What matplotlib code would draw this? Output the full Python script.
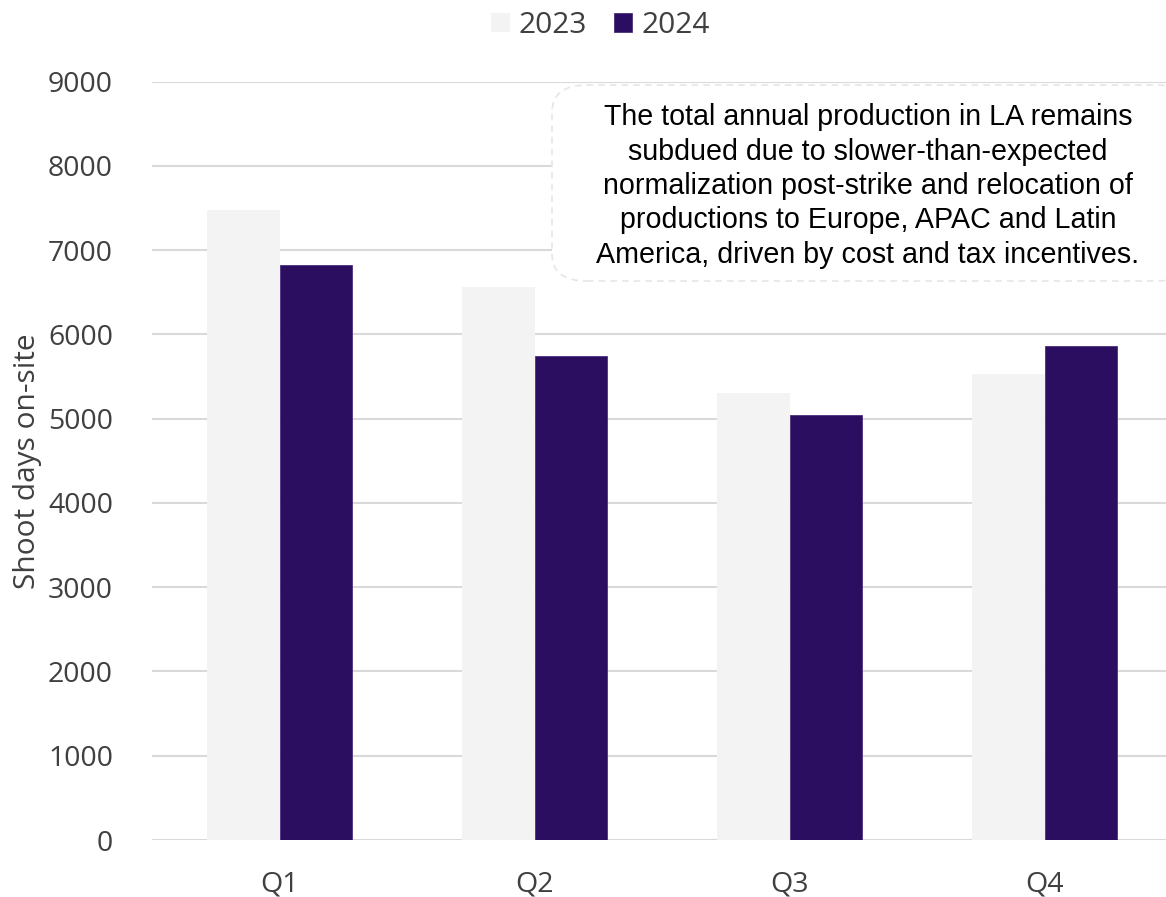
import matplotlib.pyplot as plt
from matplotlib.patches import FancyBboxPatch
import numpy as np

quarters = ['Q1', 'Q2', 'Q3', 'Q4']
days_2023 = [7475, 6565, 5310, 5525]
days_2024 = [6820, 5750, 5050, 5865]
years = ['2023', '2024']
note = ("The total annual production in LA remains\n"
        "subdued due to slower-than-expected\n"
        "normalization post-strike and relocation of\n"
        "productions to Europe, APAC and Latin\n"
        "America, driven by cost and tax incentives.")

c23 = '#f3f3f3'
c24 = '#2c0e60'
txt = '#404040'

plt.rcParams['font.family'] = ['Open Sans', 'DejaVu Sans']

fig = plt.figure(figsize=(11.66, 8.97), dpi=100)
ax = fig.add_axes([152/1166, 1 - 840/897, 1020/1166, (840 - 81.7)/897])

x = np.arange(len(quarters))
w = 0.286
ax.bar(x - w/2, days_2023, w, color=c23, label=years[0], zorder=2)
ax.bar(x + w/2, days_2024, w, color=c24, edgecolor='#4a2f7e', linewidth=0.6,
       label=years[1], zorder=2)

ax.set_xlim(-0.5, 3.5)
ax.set_ylim(0, 9000)
ax.set_yticks(range(0, 9001, 1000))
ax.yaxis.grid(True, color='#d9d9d9', linewidth=1.5, zorder=0)
ax.set_axisbelow(True)
for s in ax.spines.values():
    s.set_visible(False)
ax.tick_params(length=0, labelsize=20.5, colors=txt)
ax.tick_params(axis='y', pad=28)
ax.tick_params(axis='x', pad=22)
ax.set_xticks(x)
ax.set_xticklabels(quarters)
ax.set_ylabel('Shoot days on-site', fontsize=21.5, color=txt)
ax.yaxis.set_label_coords(-0.108, 0.5)

leg = fig.legend(loc='upper center', bbox_to_anchor=(0.515, 1.018), ncol=2,
                 frameon=False, fontsize=21.5, handlelength=0.62, handleheight=0.62,
                 handletextpad=0.3, columnspacing=0.9)
for t in leg.get_texts():
    t.set_color(txt)

# rounded note box in the upper right
box = FancyBboxPatch((552/1166, 1 - 281/897), 640/1166, 196/897,
                     boxstyle='round,pad=0,rounding_size=0.03',
                     transform=fig.transFigure, facecolor='white',
                     edgecolor='#e6e6e6', linestyle=(0, (4, 3)), linewidth=1.2,
                     zorder=3)
fig.add_artist(box)
fig.text(868/1166, 1 - 186/897, note, ha='center', va='center',
         fontsize=20.6, family=['Liberation Sans', 'DejaVu Sans'],
         color='black', linespacing=1.29, zorder=4)

fig.savefig('out.png', dpi=100)
